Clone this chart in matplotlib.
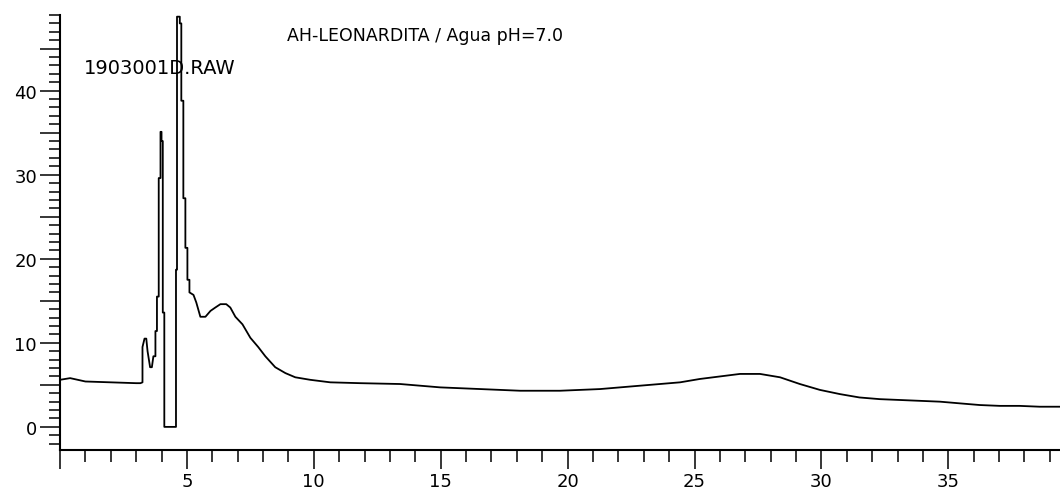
import matplotlib.pyplot as plt
from matplotlib.ticker import MultipleLocator, FuncFormatter

# 2-theta (deg) and counts; repeated x = vertical step
two_theta = [0.0, 0.4, 1.0, 2.0, 3.0, 3.17, 3.25, 3.25, 3.33, 3.40, 3.45, 3.55,
             3.62, 3.68, 3.76, 3.76, 3.82, 3.82, 3.89, 3.89, 3.96, 3.96,
             4.00, 4.00, 4.05, 4.05, 4.11, 4.11, 4.57, 4.57, 4.61, 4.61,
             4.72, 4.72, 4.78, 4.78, 4.86, 4.86, 4.94, 4.94, 5.02, 5.02,
             5.10, 5.10, 5.26, 5.37, 5.53, 5.73, 5.93, 6.12, 6.32, 6.55,
             6.71, 6.91, 7.19, 7.50, 7.81, 8.09, 8.48, 8.88, 9.27, 9.86,
             10.65, 11.83, 13.4, 14.98, 16.56, 18.13, 19.70, 21.28, 22.85,
             24.43, 25.21, 26.0, 26.79, 27.58, 28.37, 29.15, 29.94, 30.73,
             31.5, 32.3, 33.09, 33.88, 34.67, 35.45, 36.24, 37.03, 37.8,
             38.6, 39.4]
intensity = [5.6, 5.8, 5.4, 5.3, 5.2, 5.2, 5.3, 9.5, 10.5, 10.5, 9.0, 7.1,
             7.1, 8.4, 8.4, 11.4, 11.4, 15.5, 15.5, 29.6, 29.6, 35.1,
             35.1, 34.0, 34.0, 13.6, 13.6, 0.0, 0.0, 18.7, 18.7, 48.8,
             48.8, 48.0, 48.0, 38.8, 38.8, 27.2, 27.2, 21.3, 21.3, 17.5,
             17.5, 16.0, 15.7, 14.8, 13.1, 13.1, 13.8, 14.2, 14.6, 14.6,
             14.2, 13.1, 12.2, 10.6, 9.5, 8.4, 7.1, 6.4, 5.9, 5.6,
             5.3, 5.2, 5.1, 4.7, 4.5, 4.3, 4.3, 4.5, 4.9,
             5.3, 5.7, 6.0, 6.3, 6.3, 5.9, 5.1, 4.4, 3.9,
             3.5, 3.3, 3.2, 3.1, 3.0, 2.8, 2.6, 2.5, 2.5,
             2.4, 2.4]

title = "AH-LEONARDITA / Agua pH=7.0"
file_name = "1903001D.RAW"

fig = plt.figure(figsize=(10.6, 4.89), dpi=100)
ax = fig.add_axes([0.0566, 0.0777, 0.9434, 0.8896])

ax.plot(two_theta, intensity, color="black", lw=1.3)

ax.set_xlim(0, 39.4)
ax.set_ylim(-2.75, 49)

for side in ["top", "right"]:
    ax.spines[side].set_visible(False)
for side in ["left", "bottom"]:
    ax.spines[side].set_linewidth(1.5)

ax.xaxis.set_major_locator(MultipleLocator(5))
ax.xaxis.set_minor_locator(MultipleLocator(1))
ax.yaxis.set_major_locator(MultipleLocator(5))
ax.yaxis.set_minor_locator(MultipleLocator(1))
ax.xaxis.set_major_formatter(FuncFormatter(lambda v, p: "" if v <= 0 else f"{v:.0f}"))
ax.yaxis.set_major_formatter(FuncFormatter(lambda v, p: f"{v:.0f}" if v % 10 == 0 else ""))

ax.tick_params(axis="x", which="major", length=13.5, width=1.1, pad=2, labelsize=13)
ax.tick_params(axis="x", which="minor", length=8.5, width=1.1)
ax.tick_params(axis="y", which="major", length=14.5, width=1.1, pad=2, labelsize=13)
ax.tick_params(axis="y", which="minor", length=8, width=1.1)

ax.text(8.96, 46.6, title, fontsize=12.5, va="center", ha="left", zorder=1)
ax.text(0.93, 42.7, file_name, fontsize=14, va="center", ha="left", zorder=1)

fig.savefig("out.png", dpi=100)
